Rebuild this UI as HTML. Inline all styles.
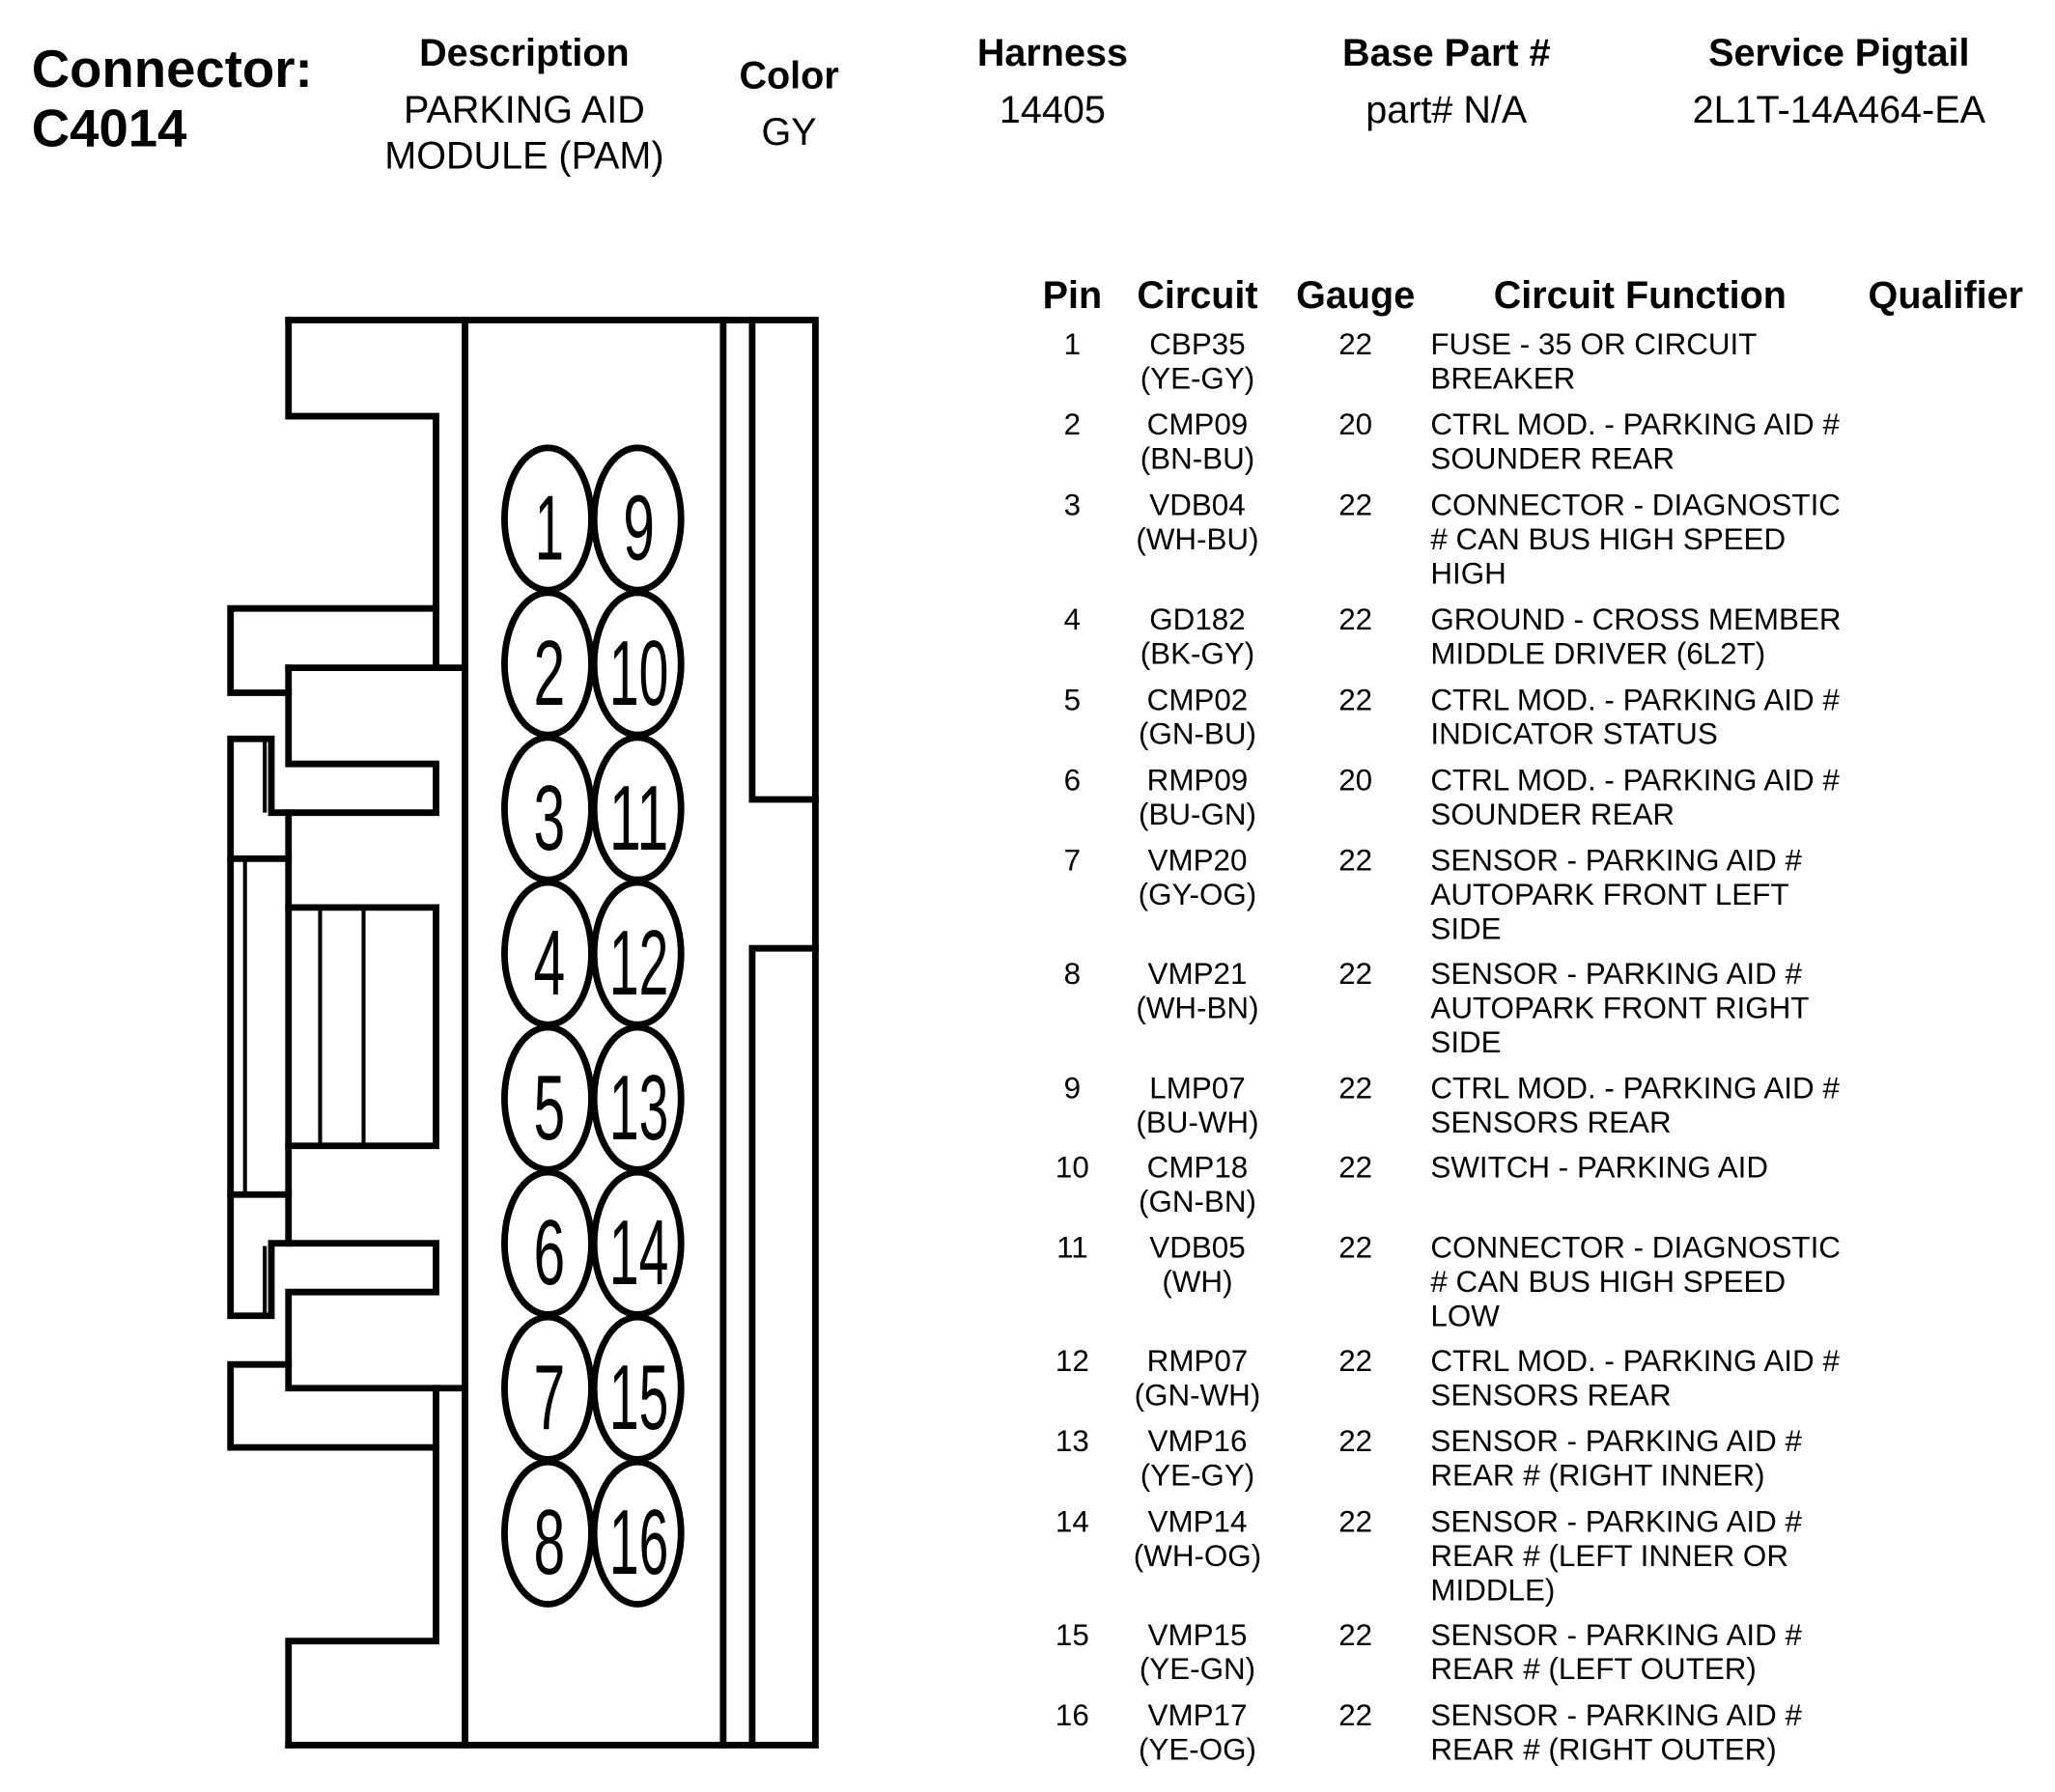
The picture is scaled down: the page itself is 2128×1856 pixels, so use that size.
<!DOCTYPE html>
<html><head><meta charset="utf-8"><style>html,body{margin:0;padding:0;background:#fff}svg{display:block}</style></head>
<body>
<svg width="2128" height="1856" viewBox="0 0 1560 1360.6" preserveAspectRatio="none" xmlns="http://www.w3.org/2000/svg" font-family="'Liberation Sans', Arial, sans-serif">
<g font-weight="bold" fill="#000">
<text x="24" y="66" font-size="40">Connector:</text>
<text x="24" y="111" font-size="40">C4014</text>
<g font-size="29" text-anchor="middle">
<text x="398" y="50">Description</text>
<text x="599" y="67">Color</text>
<text x="799" y="50">Harness</text>
<text x="1098" y="50">Base Part #</text>
<text x="1396" y="50">Service Pigtail</text>
</g>
<g font-size="29" text-anchor="middle" transform="translate(-4,-1)">
<text x="818" y="235">Pin</text>
<text x="913" y="235">Circuit</text>
<text x="1033" y="235">Gauge</text>
<text x="1249" y="235">Circuit Function</text>
<text x="1481" y="235">Qualifier</text>
</g></g>
<g font-size="29" text-anchor="middle" fill="#000">
<text x="398" y="93">PARKING AID</text>
<text x="398" y="128">MODULE (PAM)</text>
<text x="599" y="110">GY</text>
<text x="799" y="93">14405</text>
<text x="1098" y="93">part# N/A</text>
<text x="1396" y="93">2L1T-14A464-EA</text>
</g>
<g fill="none" stroke="#000" stroke-width="5" stroke-linecap="square">
<path d="M219,243 H619 V1325 H219"/>
<path d="M353,243 V1325 M549,243 V1325"/>
<path d="M571,243 V607 H619 M619,720 H571 V1325"/>
<path d="M219,243 V316 H331 V507 M219,507 H353"/>
<path d="M331,462 H175 V526 H219"/>
<path d="M219,507 V580 H331 V617 H206 V561 H175 V999 H206 V944 H331 V981 H219 V1054 H353"/>
<path d="M219,617 V944"/>
<path d="M175,652 H219 M175,907 H219"/>
<path d="M219,689 H331 V870 H219"/>
<path d="M331,1054 V1246 H219 V1325"/>
<path d="M219,1036 H175 V1099 H331"/>
</g>
<g fill="none" stroke="#000" stroke-width="3">
<path d="M201,563 V617 M201,946 V999 M186,652 V907 M243,689 V870 M276,689 V870"/>
</g>
<g fill="#fff" stroke="#000" stroke-width="5">
<ellipse cx="416" cy="394" rx="33" ry="54"/><ellipse cx="484" cy="394" rx="33" ry="54"/>
<ellipse cx="416" cy="504" rx="33" ry="54"/><ellipse cx="484" cy="504" rx="33" ry="54"/>
<ellipse cx="416" cy="614" rx="33" ry="54"/><ellipse cx="484" cy="614" rx="33" ry="54"/>
<ellipse cx="416" cy="724" rx="33" ry="54"/><ellipse cx="484" cy="724" rx="33" ry="54"/>
<ellipse cx="416" cy="834" rx="33" ry="54"/><ellipse cx="484" cy="834" rx="33" ry="54"/>
<ellipse cx="416" cy="944" rx="33" ry="54"/><ellipse cx="484" cy="944" rx="33" ry="54"/>
<ellipse cx="416" cy="1054" rx="33" ry="54"/><ellipse cx="484" cy="1054" rx="33" ry="54"/>
<ellipse cx="416" cy="1164" rx="33" ry="54"/><ellipse cx="484" cy="1164" rx="33" ry="54"/>
</g>
<g font-size="70" text-anchor="middle" fill="#000">
<text x="417" y="425" textLength="22" lengthAdjust="spacingAndGlyphs">1</text><text x="485" y="425" textLength="24" lengthAdjust="spacingAndGlyphs">9</text>
<text x="417" y="535" textLength="24" lengthAdjust="spacingAndGlyphs">2</text><text x="485" y="535" textLength="45" lengthAdjust="spacingAndGlyphs">10</text>
<text x="417" y="645" textLength="24" lengthAdjust="spacingAndGlyphs">3</text><text x="485" y="645" textLength="45" lengthAdjust="spacingAndGlyphs">11</text>
<text x="417" y="755" textLength="24" lengthAdjust="spacingAndGlyphs">4</text><text x="485" y="755" textLength="45" lengthAdjust="spacingAndGlyphs">12</text>
<text x="417" y="865" textLength="24" lengthAdjust="spacingAndGlyphs">5</text><text x="485" y="865" textLength="45" lengthAdjust="spacingAndGlyphs">13</text>
<text x="417" y="975" textLength="24" lengthAdjust="spacingAndGlyphs">6</text><text x="485" y="975" textLength="45" lengthAdjust="spacingAndGlyphs">14</text>
<text x="417" y="1085" textLength="24" lengthAdjust="spacingAndGlyphs">7</text><text x="485" y="1085" textLength="45" lengthAdjust="spacingAndGlyphs">15</text>
<text x="417" y="1195" textLength="24" lengthAdjust="spacingAndGlyphs">8</text><text x="485" y="1195" textLength="45" lengthAdjust="spacingAndGlyphs">16</text>
</g>
<g font-size="23" fill="#000" transform="translate(-4,-3)">
<g text-anchor="middle">
<text x="818" y="272">1</text><text x="913" y="272">CBP35</text><text x="913" y="298">(YE-GY)</text><text x="1033" y="272">22</text>
<text x="818" y="333">2</text><text x="913" y="333">CMP09</text><text x="913" y="359">(BN-BU)</text><text x="1033" y="333">20</text>
<text x="818" y="394">3</text><text x="913" y="394">VDB04</text><text x="913" y="420">(WH-BU)</text><text x="1033" y="394">22</text>
<text x="818" y="481">4</text><text x="913" y="481">GD182</text><text x="913" y="507">(BK-GY)</text><text x="1033" y="481">22</text>
<text x="818" y="542">5</text><text x="913" y="542">CMP02</text><text x="913" y="568">(GN-BU)</text><text x="1033" y="542">22</text>
<text x="818" y="603">6</text><text x="913" y="603">RMP09</text><text x="913" y="629">(BU-GN)</text><text x="1033" y="603">20</text>
<text x="818" y="664">7</text><text x="913" y="664">VMP20</text><text x="913" y="690">(GY-OG)</text><text x="1033" y="664">22</text>
<text x="818" y="750">8</text><text x="913" y="750">VMP21</text><text x="913" y="776">(WH-BN)</text><text x="1033" y="750">22</text>
<text x="818" y="837">9</text><text x="913" y="837">LMP07</text><text x="913" y="863">(BU-WH)</text><text x="1033" y="837">22</text>
<text x="818" y="897">10</text><text x="913" y="897">CMP18</text><text x="913" y="923">(GN-BN)</text><text x="1033" y="897">22</text>
<text x="818" y="958">11</text><text x="913" y="958">VDB05</text><text x="913" y="984">(WH)</text><text x="1033" y="958">22</text>
<text x="818" y="1044">12</text><text x="913" y="1044">RMP07</text><text x="913" y="1070">(GN-WH)</text><text x="1033" y="1044">22</text>
<text x="818" y="1105">13</text><text x="913" y="1105">VMP16</text><text x="913" y="1131">(YE-GY)</text><text x="1033" y="1105">22</text>
<text x="818" y="1166">14</text><text x="913" y="1166">VMP14</text><text x="913" y="1192">(WH-OG)</text><text x="1033" y="1166">22</text>
<text x="818" y="1252">15</text><text x="913" y="1252">VMP15</text><text x="913" y="1278">(YE-GN)</text><text x="1033" y="1252">22</text>
<text x="818" y="1313">16</text><text x="913" y="1313">VMP17</text><text x="913" y="1339">(YE-OG)</text><text x="1033" y="1313">22</text>
</g>
<g>
<text x="1090" y="272">FUSE - 35 OR CIRCUIT</text><text x="1090" y="298">BREAKER</text>
<text x="1090" y="333">CTRL MOD. - PARKING AID #</text><text x="1090" y="359">SOUNDER REAR</text>
<text x="1090" y="394">CONNECTOR - DIAGNOSTIC</text><text x="1090" y="420"># CAN BUS HIGH SPEED</text><text x="1090" y="446">HIGH</text>
<text x="1090" y="481">GROUND - CROSS MEMBER</text><text x="1090" y="507">MIDDLE DRIVER (6L2T)</text>
<text x="1090" y="542">CTRL MOD. - PARKING AID #</text><text x="1090" y="568">INDICATOR STATUS</text>
<text x="1090" y="603">CTRL MOD. - PARKING AID #</text><text x="1090" y="629">SOUNDER REAR</text>
<text x="1090" y="664">SENSOR - PARKING AID #</text><text x="1090" y="690">AUTOPARK FRONT LEFT</text><text x="1090" y="716">SIDE</text>
<text x="1090" y="750">SENSOR - PARKING AID #</text><text x="1090" y="776">AUTOPARK FRONT RIGHT</text><text x="1090" y="802">SIDE</text>
<text x="1090" y="837">CTRL MOD. - PARKING AID #</text><text x="1090" y="863">SENSORS REAR</text>
<text x="1090" y="897">SWITCH - PARKING AID</text>
<text x="1090" y="958">CONNECTOR - DIAGNOSTIC</text><text x="1090" y="984"># CAN BUS HIGH SPEED</text><text x="1090" y="1010">LOW</text>
<text x="1090" y="1044">CTRL MOD. - PARKING AID #</text><text x="1090" y="1070">SENSORS REAR</text>
<text x="1090" y="1105">SENSOR - PARKING AID #</text><text x="1090" y="1131">REAR # (RIGHT INNER)</text>
<text x="1090" y="1166">SENSOR - PARKING AID #</text><text x="1090" y="1192">REAR # (LEFT INNER OR</text><text x="1090" y="1218">MIDDLE)</text>
<text x="1090" y="1252">SENSOR - PARKING AID #</text><text x="1090" y="1278">REAR # (LEFT OUTER)</text>
<text x="1090" y="1313">SENSOR - PARKING AID #</text><text x="1090" y="1339">REAR # (RIGHT OUTER)</text>
</g>
</g>
</svg>
</body></html>
